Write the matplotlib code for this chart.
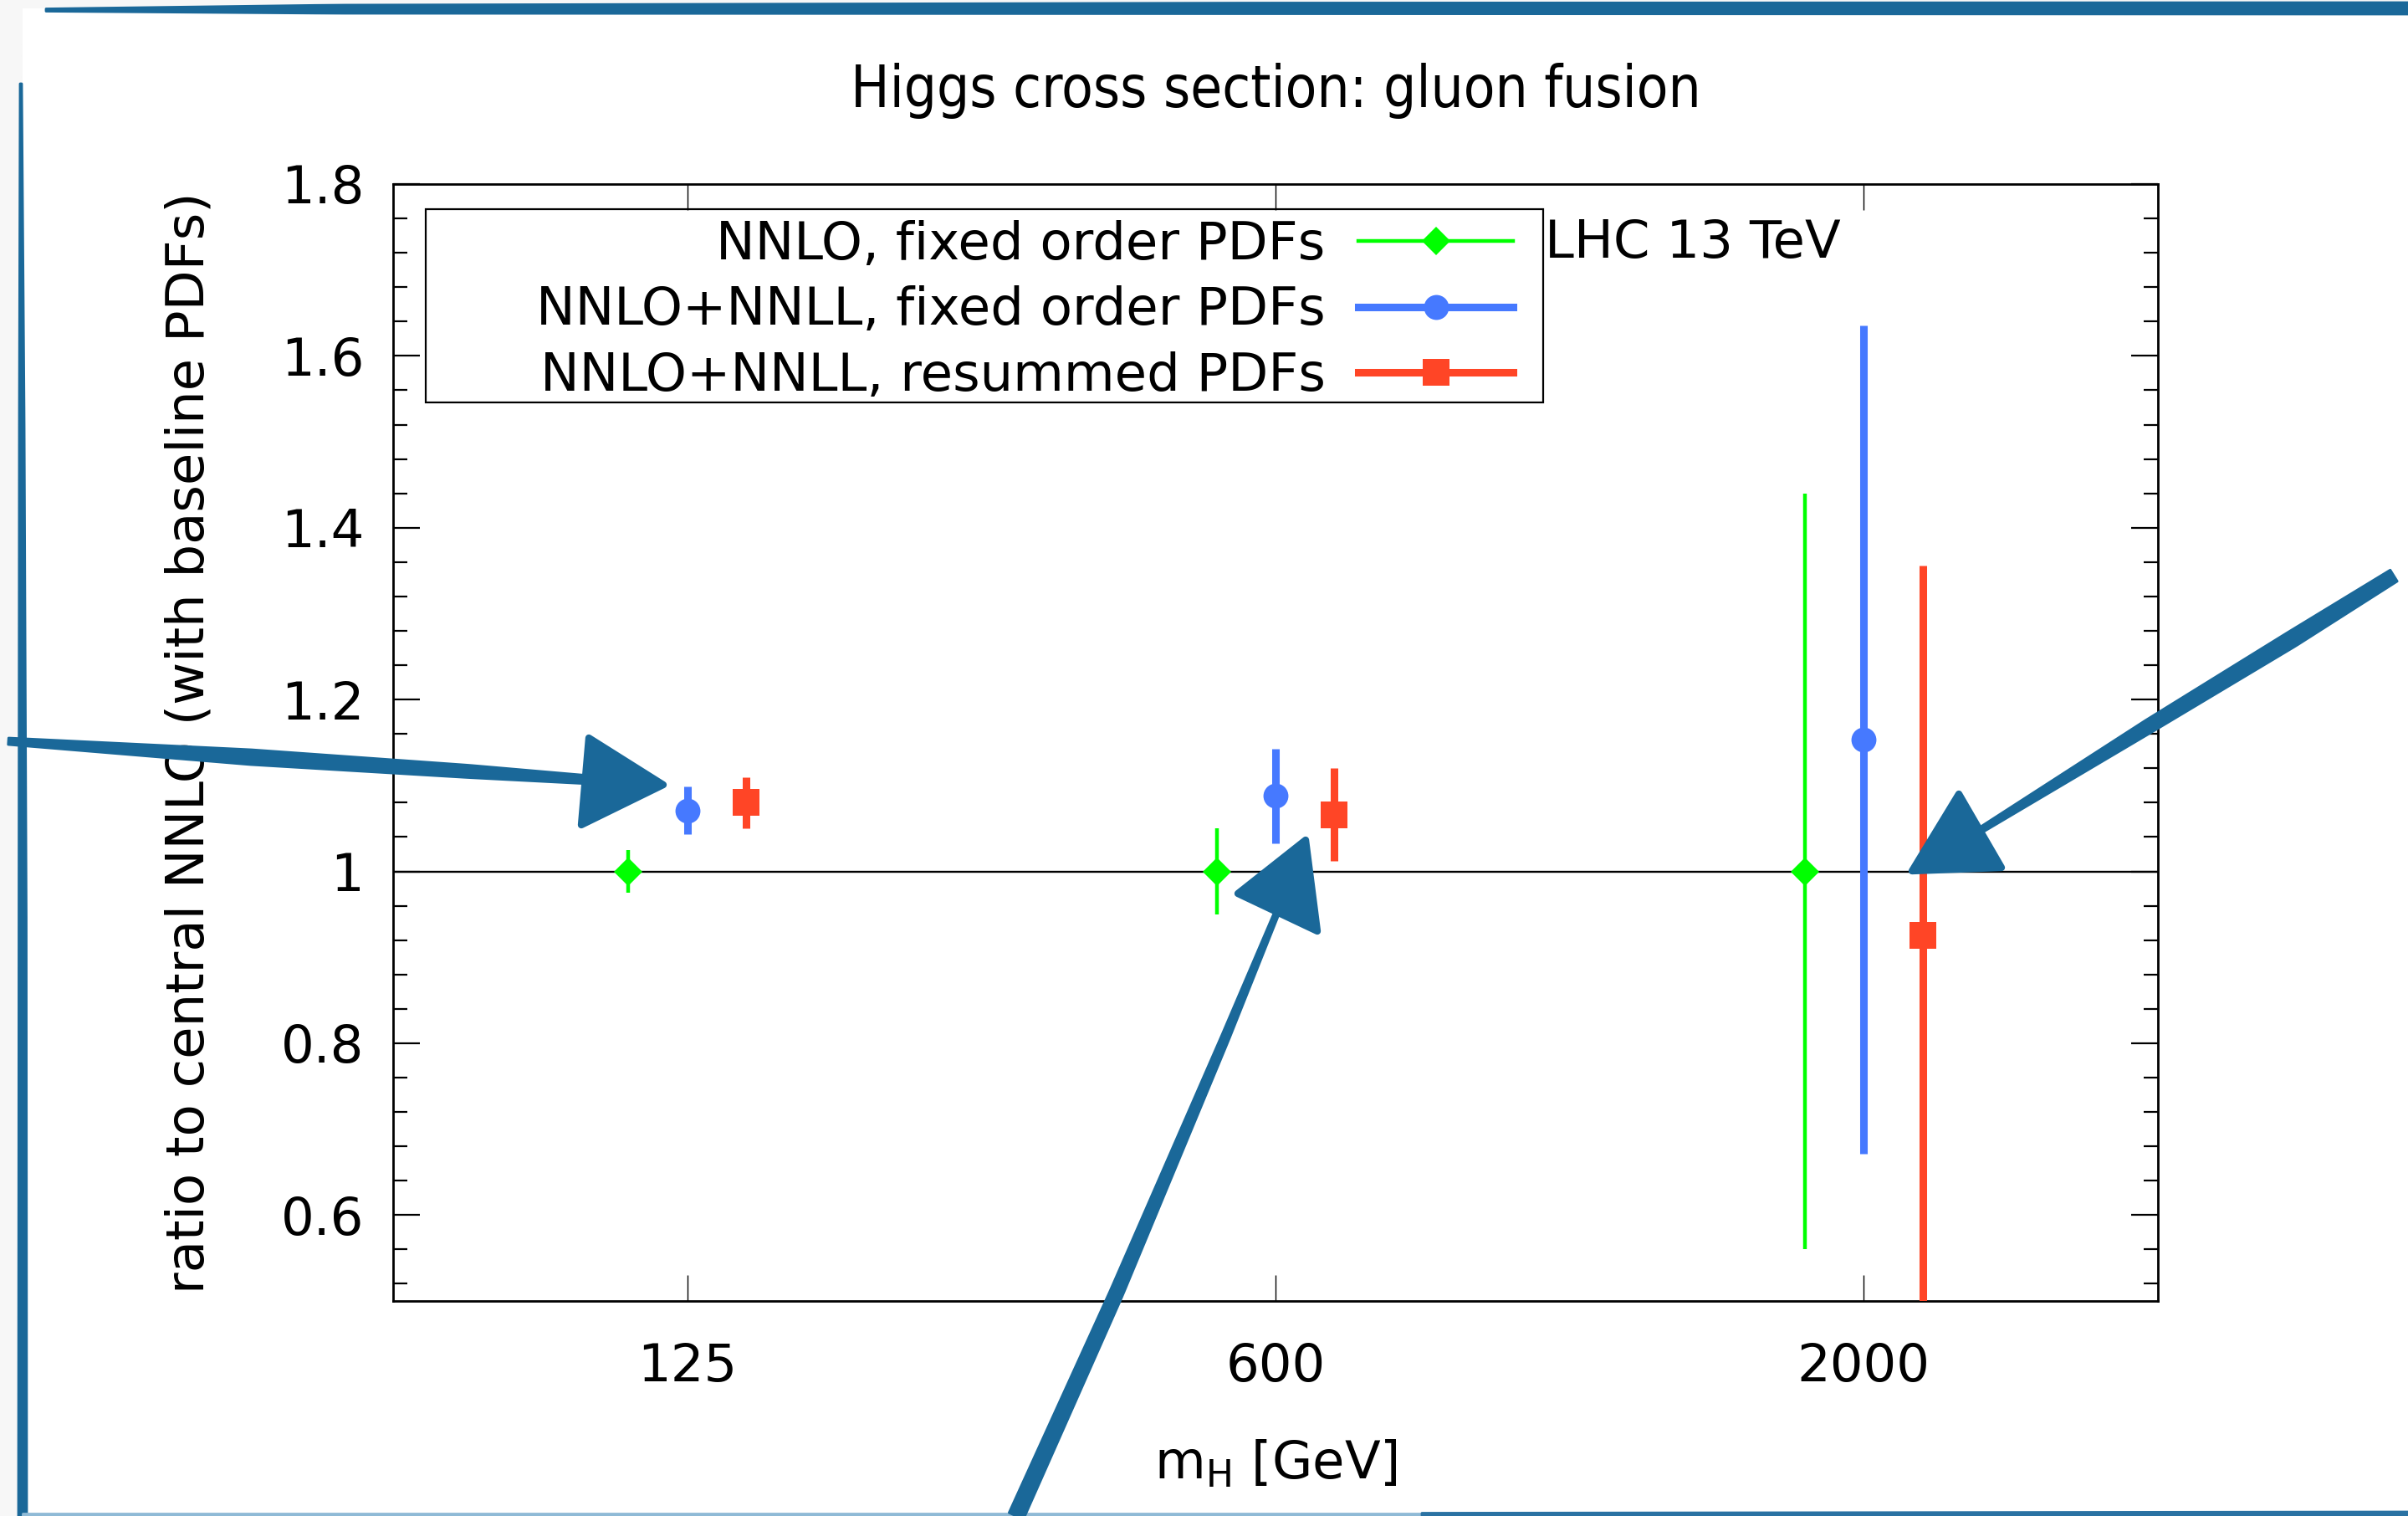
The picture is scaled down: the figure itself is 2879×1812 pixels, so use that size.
import numpy as np
import matplotlib
matplotlib.use("Agg")
import matplotlib.pyplot as plt
from matplotlib.lines import Line2D
from matplotlib.patches import Polygon, Rectangle
from matplotlib.ticker import FixedLocator, MultipleLocator, FuncFormatter

plt.rcParams.update({"font.family": "DejaVu Sans", "font.size": 45,
                     "mathtext.fontset": "dejavusans"})

# ratio to central NNLO for the three Higgs masses
masses = ["125", "600", "2000"]
nnlo_fo = [1.000, 1.000, 1.000]
nnlo_fo_err = [0.025, 0.050, 0.440]
nnll_fo = [1.071, 1.088, 1.153]
nnll_fo_err = [0.028, 0.055, 0.482]
nnll_res = [1.080, 1.066, 0.926]
nnll_res_err = [0.030, 0.054, 0.430]

GREEN, BLUE, RED = "#00ff00", "#4679ff", "#ff4526"
INK = "#1a6899"
W, H = 2879, 1812

fig = plt.figure(figsize=(W / 100, H / 100), dpi=100, facecolor="#f7f7f7")
fig.add_artist(Rectangle((27 / W, 0), 1, 1 - 10 / H, transform=fig.transFigure,
                         facecolor="white", edgecolor="none", zorder=-5))
ax = fig.add_axes([470 / W, 1 - 1555 / H, 2110 / W, 1335 / H])

x = np.arange(1, len(masses) + 1)
series = [
    (nnlo_fo, nnlo_fo_err, -0.1, GREEN, "D", 17.5, 3.2, "NNLO, fixed order PDFs"),
    (nnll_fo, nnll_fo_err, 0.0, BLUE, "o", 21.5, 6.5, "NNLO+NNLL, fixed order PDFs"),
    (nnll_res, nnll_res_err, 0.1, RED, "s", 22.5, 6.5, "NNLO+NNLL, resummed PDFs"),
]
handles = []
for vals, err, dx, col, mk, ms, lw, lab in series:
    ax.errorbar(x + dx, vals, yerr=err, fmt=mk, color=col, ms=ms, mew=0,
                elinewidth=lw, capsize=0, zorder=3)
    handles.append(Line2D([], [], color=col, lw=lw, marker=mk, ms=ms, mew=0))

ax.axhline(1.0, color="black", lw=1.7, zorder=2)
ax.set_xlim(0.5, 3.5)
ax.set_ylim(0.5, 1.8)
ax.set_xticks(x)
ax.set_xticklabels(masses)
ax.yaxis.set_major_locator(FixedLocator([0.6, 0.8, 1.0, 1.2, 1.4, 1.6, 1.8]))
ax.yaxis.set_minor_locator(MultipleLocator(0.04))
ax.yaxis.set_major_formatter(FuncFormatter(lambda v, p: f"{v:g}"))
ax.tick_params(axis="x", which="major", direction="in", top=True, length=22,
               width=1.0, pad=35)
ax.tick_params(axis="y", which="major", direction="in", right=True, length=23,
               width=1.6, pad=25)
ax.tick_params(axis="y", which="minor", direction="in", right=True, length=12,
               width=1.6)
for s in ax.spines.values():
    s.set_linewidth(2.0)

ax.set_title("Higgs cross section: gluon fusion", pad=66, fontsize=49.5,
             fontstretch="condensed")
ax.set_xlabel(r"m$_\mathrm{H}$ [GeV]", va="baseline")
ax.xaxis.set_label_coords(0.5, -0.1596)
ax.set_ylabel("ratio to central NNLO (with baseline PDFs)")
ax.yaxis.set_label_coords(-0.101, 0.5)

# gnuplot-style key: labels right-justified, samples on the right, boxed
ax.add_patch(Rectangle((0.0185, 0.8045), 0.6332, 0.173, transform=ax.transAxes,
                       fill=False, edgecolor="black", lw=1.6, zorder=4))
ax.legend(handles, [s[-1] for s in series], loc="upper right",
          bbox_to_anchor=(0.6346, 0.968), frameon=False, markerfirst=False,
          borderpad=0, borderaxespad=0, handlelength=2.96, handletextpad=0.63,
          labelspacing=0.30, numpoints=1)
ax.text(0.6526, 0.934, "LHC 13 TeV", transform=ax.transAxes, va="baseline")

# hand-drawn markup layer on top of the plot, in pixel coordinates
ov = fig.add_axes([0, 0, 1, 1], zorder=10)
ov.set_xlim(0, W)
ov.set_ylim(H, 0)
ov.axis("off")
ov.patch.set_alpha(0)


def stroke(pts, widths, color=INK, n=80):
    p = np.asarray(pts, float)
    seg = np.r_[0, np.cumsum(np.hypot(*np.diff(p, axis=0).T))]
    t = np.linspace(0, seg[-1], n)
    c = np.column_stack([np.interp(t, seg, p[:, 0]), np.interp(t, seg, p[:, 1])])
    w = np.interp(t, seg, widths)
    d = np.gradient(c, axis=0)
    nrm = np.column_stack([-d[:, 1], d[:, 0]])
    nrm /= np.linalg.norm(nrm, axis=1)[:, None]
    poly = np.vstack([c + nrm * w[:, None] / 2, (c - nrm * w[:, None] / 2)[::-1]])
    ov.add_patch(Polygon(poly, closed=True, facecolor=color, edgecolor=color,
                         lw=2, joinstyle="round"))


def head(tip, b1, b2):
    ov.add_patch(Polygon([tip, b1, b2], closed=True, facecolor=INK, edgecolor=INK,
                         lw=6, joinstyle="round"))


# page border strokes
stroke([(55, 12), (400, 11), (1500, 10), (2879, 10)], [3, 10, 13, 14])
stroke([(25, 100), (26, 500), (27, 1100), (27, 1812)], [2, 6, 9, 10])
stroke([(27, 1810), (1700, 1810)], [3, 3], color="#8fbad6")
stroke([(1700, 1810), (2879, 1809)], [3, 4], color="#2a72a3")

# arrows
stroke([(10, 886), (300, 905), (560, 922), (705, 932)], [8, 18, 15, 10])
head((793, 938), (704, 882), (695, 986))
stroke([(1215, 1812), (1335, 1545), (1465, 1240), (1527, 1090)], [19, 16, 10, 6])
head((1561, 1004), (1480, 1068), (1575, 1113))
stroke([(2862, 688), (2740, 764), (2569, 868), (2370, 991)], [16, 19, 16, 7])
head((2286, 1041), (2342, 949), (2393, 1037))

fig.savefig("out.png", dpi=100, facecolor=fig.get_facecolor())
